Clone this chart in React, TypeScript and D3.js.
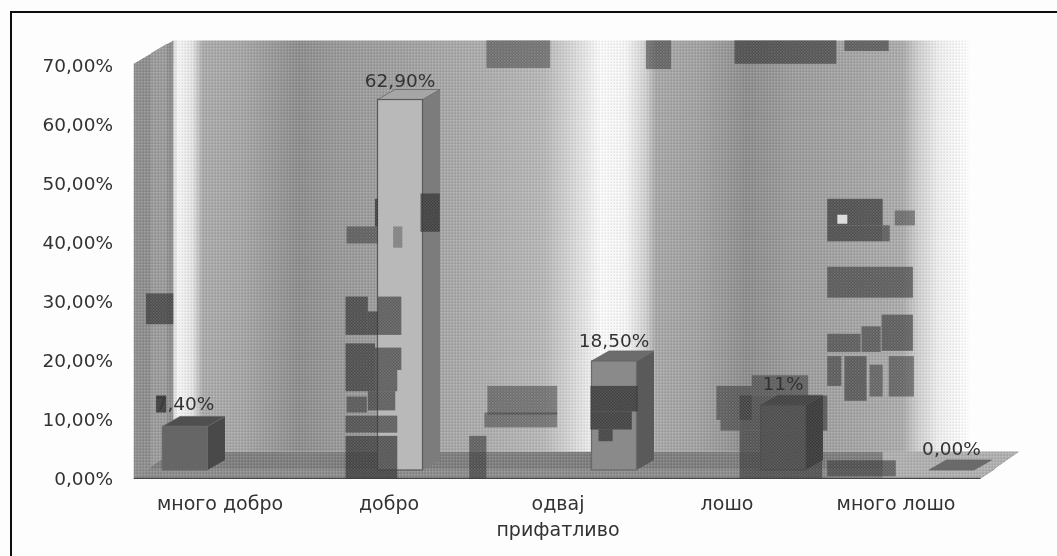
import React from "react";
import * as d3 from "d3";

const categories = ["много добро", "добро", "одвај прифатливо", "лошо", "много лошо"];
const values = [7.4, 62.9, 18.5, 11, 0];
const valueLabels = ["7,40%", "62,90%", "18,50%", "11%", "0,00%"];
const yTicks = [0, 10, 20, 30, 40, 50, 60, 70];

const W = 1057, H = 556;
const font = "'DejaVu Sans', Verdana, sans-serif";

// scan artefacts of the printed source: [x0, y0, x1, y1, darkness]
const scanBlocks: number[][] = [
  [144,276,171,305,.7],[342,213,373,229,.55],[370,187,373,213,.8],[388,213,397,233,.4],
  [415,182,434,218,.75],[341,279,363,315,.7],[363,293,373,315,.7],[373,279,396,315,.65],
  [341,323,370,368,.7],[370,327,396,348,.65],[370,348,392,368,.65],[342,373,362,388,.6],[363,368,390,386,.65],
  [341,391,392,407,.65],[341,410,392,450,.72],[463,410,480,450,.6],[481,363,557,390,.5],[478,388,557,402,.5],
  [480,38,550,64,.5],[645,38,670,65,.55],[733,38,834,60,.65],[842,38,886,48,.6],
  [825,187,880,212,.7],[825,212,880,227,.7],[880,212,887,227,.6],[892,198,912,212,.5],
  [825,251,910,280,.62],[825,314,858,331,.6],[859,307,878,331,.6],[879,296,910,330,.62],
  [825,335,839,363,.6],[842,335,864,377,.62],[867,343,880,373,.55],[886,335,911,373,.55],
  [715,363,750,395,.55],[719,395,738,405,.55],[750,353,806,372,.55],[738,372,825,405,.62],[738,405,820,450,.62],
  [825,433,893,448,.6],[590,363,637,387,.78],[590,387,631,404,.78],[598,404,612,415,.75],
];
// the block that hides the first digit of "7,40%" sits above the label
const labelBlocks: number[][] = [[154,372,164,388,.85]];
const wallStops: [number, string][] = [
  [171, "#d5d5d5"], [176, "#f6f6f6"], [190, "#e4e4e4"], [200, "#ababab"], [240, "#a6a6a6"], [295, "#8e8e8e"], [330, "#989898"],
  [420, "#a4a4a4"], [480, "#adadad"], [545, "#b8b8b8"], [585, "#e6e6e6"], [600, "#fbfbfb"], [625, "#f6f6f6"], [645, "#d0d0d0"], [655, "#a8a8a8"],
  [700, "#a2a2a2"], [745, "#8e8e8e"], [790, "#9c9c9c"], [900, "#acacac"], [915, "#cfcfcf"], [935, "#eeeeee"], [965, "#ffffff"],
];

// crop readings to page pixels
const sx = d3.scaleLinear().domain([0, 523, 530, 1053]).range([0, 530, 530, 1057]);
const sy = d3.scaleLinear().domain([0, 523]).range([0, 556]);

const yAxisScale = d3.scaleLinear().domain([0, 70]).range([478.5, 65]);
const yBar = d3.scaleLinear().domain([0, 70]).range([470, 57.7]);
const xLabel = d3.scalePoint<string>().domain(categories).range([220, 896]);
const xBar = d3.scaleOrdinal<string, number>().domain(categories).range([185, 400, 614, 783, 951.5]);
const barFill = d3.scaleOrdinal<string, string>().domain(categories).range(["#666", "#b9b9b9", "#8a8a8a", "#7a7a7a", "#777"]);
const sideFill = d3.scaleOrdinal<string, string>().domain(categories).range(["#484848", "#7c7c7c", "#5a5a5a", "#4a4a4a", "#555"]);
const topFill = d3.scaleOrdinal<string, string>().domain(categories).range(["#505050", "#a6a6a6", "#6c6c6c", "#5a5a5a", "#6a6a6a"]);
const labelOffset = d3.scaleOrdinal<string, number>().domain(categories).range([-23, -19.5, -21, -21.5, -22]);

const barW = 45, dx = 17.5, dy = 10;
const poly = (p: number[][]) => (d3.line()(p as [number, number][]) ?? "") + "Z";
const pt = (x: number, y: number) => [sx(x), sy(y)];

function Block({ b }: { b: number[] }) {
  const [x0, y0, x1, y1, k] = b;
  return (
    <g>
      <rect x={sx(x0)} y={sy(y0)} width={sx(x1) - sx(x0)} height={sy(y1) - sy(y0)} fill="#2a2a2a" opacity={k} />
      <rect x={sx(x0)} y={sy(y0)} width={sx(x1) - sx(x0)} height={sy(y1) - sy(y0)} fill="url(#checker)" />
    </g>
  );
}

export default function App() {
  const a = 171, b = 965;
  const [wx0, wx1] = [sx(a), sx(b)];
  return (
    <svg width={W} height={H} viewBox={`0 0 ${W} ${H}`} style={{ position: "absolute", left: 0, top: 0, display: "block", background: "#fdfdfd" }}>
      <defs>
        <linearGradient id="wall" gradientUnits="userSpaceOnUse" x1={wx0} x2={wx1} y1="0" y2="0">
          {wallStops.map(([x, c]) => (
            <stop key={x} offset={(sx(x) - wx0) / (wx1 - wx0)} stopColor={c} />
          ))}
        </linearGradient>
        <pattern id="dither" width="3" height="3" patternUnits="userSpaceOnUse">
          <rect width="1.4" height="1.4" fill="#fff" opacity=".16" />
          <rect x="1.5" y="1.5" width="1.4" height="1.4" fill="#000" opacity=".1" />
        </pattern>
        <pattern id="checker" width="3" height="3" patternUnits="userSpaceOnUse">
          <rect width="1.5" height="1.5" fill="#fff" opacity=".13" />
          <rect x="1.5" y="1.5" width="1.5" height="1.5" fill="#fff" opacity=".13" />
        </pattern>
        <filter id="soft" x="0" y="0" width="100%" height="100%">
          <feGaussianBlur stdDeviation="0.35" />
        </filter>
      </defs>

      <g filter="url(#soft)">
        {/* page frame */}
        <path d={`M10 ${H} V11 H${W}`} fill="none" stroke="#111" strokeWidth="4" />

        {/* back wall, side wall, floor */}
        <path d={poly([pt(a, 38), pt(b, 38), pt(b, 425), pt(a, 425)])} fill="url(#wall)" />
        <path d={poly([pt(a, 38), pt(b, 38), pt(b, 425), pt(a, 425)])} fill="url(#dither)" />
        <path d={poly([pt(132, 60), pt(171, 38), pt(171, 425), pt(132, 450)])} fill="#8f8f8f" />
        <path d={poly([pt(149, 50), pt(165, 41), pt(165, 430), pt(149, 441)])} fill="#9c9c9c" />
        <path d={poly([pt(132, 60), pt(171, 38), pt(171, 425), pt(132, 450)])} fill="url(#dither)" />
        <path d={poly([pt(132, 450), pt(171, 425), pt(1015, 425), pt(977, 450)])} fill="#7e7e7e" />
        <path d={poly([pt(132, 450), pt(146, 441), pt(992, 441), pt(977, 450)])} fill="#8d8d8d" />
        <path d={poly([pt(880, 425), pt(1015, 425), pt(977, 450), pt(880, 450)])} fill="#b0b0b0" />
        <path d={poly([pt(132, 450), pt(171, 425), pt(1015, 425), pt(977, 450)])} fill="url(#dither)" />
        <line x1={sx(132)} x2={sx(977)} y1={sy(450)} y2={sy(450)} stroke="#444" strokeWidth="1.4" />

        {/* 3D bars */}
        {categories.map((c, i) => {
          const x0 = xBar(c) - barW / 2;
          const x1 = x0 + barW;
          const top = yBar(values[i]);
          const base = yBar(0);
          return (
            <g key={c}>
              <path d={poly([[x1, top], [x1 + dx, top - dy], [x1 + dx, base - dy], [x1, base]])} fill={sideFill(c)} />
              <path d={poly([[x0, top], [x1, top], [x1 + dx, top - dy], [x0 + dx, top - dy]])} fill={topFill(c)} stroke="#666" strokeWidth=".8" />
              <rect x={x0} y={top} width={barW} height={base - top} fill={barFill(c)} stroke={i === 1 ? "#5a5a5a" : "#6a6a6a"} strokeWidth="1.2" />
            </g>
          );
        })}

        {/* scan blocks */}
        {scanBlocks.map((block, i) => <Block key={i} b={block} />)}
        <rect x={sx(835)} y={sy(202)} width="10" height="9" fill="#dedede" />

        {/* axis tick labels */}
        {yTicks.map((t) => (
          <text key={t} x={113} y={yAxisScale(t)} dy="0.36em" textAnchor="end" fontFamily={font} fontSize="18.5" fill="#333">
            {d3.format(".2f")(t).replace(".", ",") + "%"}
          </text>
        ))}

        {/* category labels */}
        {categories.map((c) => {
          const lines = c === "одвај прифатливо" ? ["одвај", "прифатливо"] : [c];
          return (
            <text key={c} textAnchor="middle" fontFamily={font} fontSize="19" fill="#333">
              {lines.map((l, j) => (
                <tspan key={l} x={xLabel(c)} y={510 + j * 26}>{l}</tspan>
              ))}
            </text>
          );
        })}

        {/* data labels */}
        {categories.map((c, i) => (
          <text key={c} x={xBar(c)} y={yBar(values[i]) + labelOffset(c)} dy="0.36em" textAnchor="middle" fontFamily={font} fontSize="18.5" fill="#333">
            {valueLabels[i]}
          </text>
        ))}
        {labelBlocks.map((block, i) => <Block key={i} b={block} />)}
      </g>
    </svg>
  );
}
